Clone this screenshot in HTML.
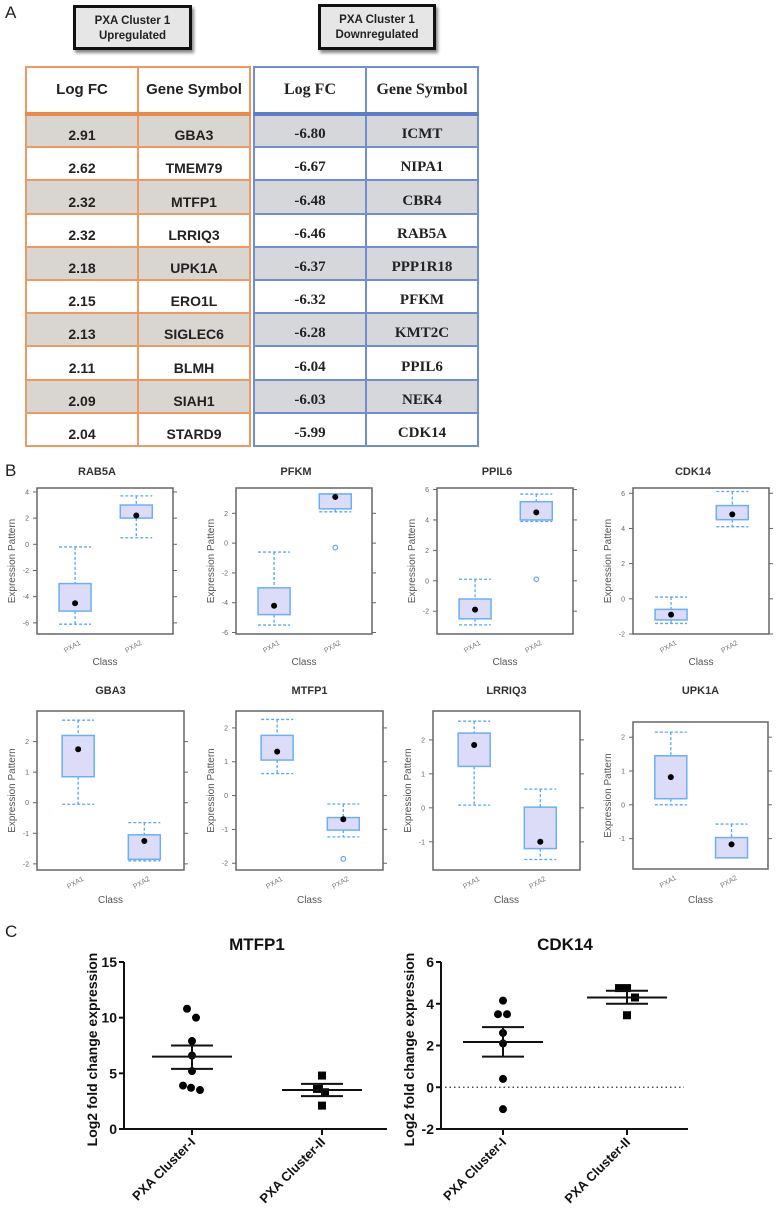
<!DOCTYPE html>
<html><head><meta charset="utf-8">
<style>
body{margin:0;background:#fff;}
#root{position:relative;width:778px;height:1209px;overflow:hidden;font-family:"Liberation Sans",sans-serif;}
.lbl{position:absolute;font-size:17px;color:#222;}
.hbox{position:absolute;background:#e6e6e6;border:3px solid #111;box-shadow:2px 3px 3px #888;text-align:center;font-weight:bold;font-size:11.5px;line-height:15px;color:#222;box-sizing:border-box;padding-top:6px;}
table{position:absolute;border-collapse:collapse;table-layout:fixed;}
td{box-sizing:border-box;text-align:center;font-weight:bold;font-size:14px;color:#222;vertical-align:bottom;padding:0 0 3px 0;height:33.2px;}
tr.head td{height:47px;vertical-align:top;padding-top:13px;font-size:15px;}
#tl td{border:2px solid #ec9a62;}
#tl tr.head td{border-bottom:4px solid #ec8a4a;}
#tl tr.g td{background:#d9d5d1;}
#tr td{border:2px solid #6f8fd0;font-family:"Liberation Serif",serif;font-size:15px;}
#tr tr.head td{border-bottom:4px solid #5a7fc8;font-size:16px;}
#tr tr.g td{background:#d6d7da;}
svg{position:absolute;left:0;top:0;}
</style></head>
<body>
<div id="root">
<div class="lbl" style="left:5px;top:3px">A</div>
<div class="hbox" style="left:73px;top:5px;width:119px;height:45px">PXA Cluster 1<br>Upregulated</div>
<div class="hbox" style="left:318px;top:4px;width:118px;height:46px">PXA Cluster 1<br>Downregulated</div>

<table id="tl" style="left:25px;top:66px;width:224px">
<colgroup><col style="width:112px"><col style="width:112px"></colgroup>
<tr class="head"><td>Log FC</td><td>Gene Symbol</td></tr>
<tr class="g"><td>2.91</td><td>GBA3</td></tr>
<tr><td>2.62</td><td>TMEM79</td></tr>
<tr class="g"><td>2.32</td><td>MTFP1</td></tr>
<tr><td>2.32</td><td>LRRIQ3</td></tr>
<tr class="g"><td>2.18</td><td>UPK1A</td></tr>
<tr><td>2.15</td><td>ERO1L</td></tr>
<tr class="g"><td>2.13</td><td>SIGLEC6</td></tr>
<tr><td>2.11</td><td>BLMH</td></tr>
<tr class="g"><td>2.09</td><td>SIAH1</td></tr>
<tr><td>2.04</td><td>STARD9</td></tr>
</table>
<table id="tr" style="left:253px;top:66px;width:224px">
<colgroup><col style="width:112px"><col style="width:112px"></colgroup>
<tr class="head"><td>Log FC</td><td>Gene Symbol</td></tr>
<tr class="g"><td>-6.80</td><td>ICMT</td></tr>
<tr><td>-6.67</td><td>NIPA1</td></tr>
<tr class="g"><td>-6.48</td><td>CBR4</td></tr>
<tr><td>-6.46</td><td>RAB5A</td></tr>
<tr class="g"><td>-6.37</td><td>PPP1R18</td></tr>
<tr><td>-6.32</td><td>PFKM</td></tr>
<tr class="g"><td>-6.28</td><td>KMT2C</td></tr>
<tr><td>-6.04</td><td>PPIL6</td></tr>
<tr class="g"><td>-6.03</td><td>NEK4</td></tr>
<tr><td>-5.99</td><td>CDK14</td></tr>
</table>

<div class="lbl" style="left:5px;top:461px">B</div>
<div class="lbl" style="left:5px;top:922px">C</div>

<svg id="chart" width="778" height="1209"></svg>
</div>
<script>
// ---- Panel B box plot data ----
const boxTitles = ["RAB5A","PFKM","PPIL6","CDK14","GBA3","MTFP1","LRRIQ3","UPK1A"];
const whiskerHi = [[-0.2,3.7],[-0.6,3.3],[0.1,5.7],[0.1,6.1],[2.7,-0.65],[2.25,-0.25],[2.55,0.55],[2.15,-0.57]];
const boxQ3 = [[-3,3],[-3,3.3],[-1.2,5.2],[-0.6,5.3],[2.2,-1.05],[1.78,-0.65],[2.2,0.02],[1.45,-0.97]];
const boxQ1 = [[-5.1,2],[-4.8,2.3],[-2.5,4],[-1.2,4.5],[0.85,-1.85],[1.05,-1.02],[1.22,-1.2],[0.18,-1.57]];
const whiskerLo = [[-6.1,0.5],[-5.5,2.1],[-2.9,3.9],[-1.4,4.1],[-0.05,-1.9],[0.65,-1.22],[0.08,-1.52],[0,-1.57]];
const boxMeans = [[-4.5,2.2],[-4.2,3.1],[-1.9,4.5],[-0.9,4.8],[1.75,-1.25],[1.3,-0.7],[1.85,-1.0],[0.82,-1.17]];
const boxOutliers = [[null,null],[null,-0.3],[null,0.1],[null,null],[null,null],[null,-1.87],[null,null],[null,null]];
const yDomains = [[-6.85,4.3],[-6.1,3.7],[-3.5,6.1],[-2,6.3],[-2.2,3.0],[-2.2,2.5],[-1.83,2.85],[-1.9,2.45]];
const yTicks = [[-6,-4,-2,0,2,4],[-6,-4,-2,0,2],[-2,0,2,4,6],[-2,0,2,4,6],[-2,-1,0,1,2],[-2,-1,0,1,2],[-1,0,1,2],[-1,0,1,2]];
const classLabels = ["PXA1","PXA2"];

// ---- Panel C scatter data ----
const scTitles = ["MTFP1","CDK14"];
const scCats = ["PXA Cluster-I","PXA Cluster-II"];
const mtfpI = [10.8,10.0,7.9,6.6,5.2,3.9,3.7,3.5];
const mtfpIJit = [-5,4,0,0,0,-9,-1,8];
const mtfpII = [4.8,3.6,3.3,2.1];
const mtfpIIJit = [0,-5,3,0];
const mtfpMean = [6.5,3.5];
const mtfpSemHi = [7.5,4.05];
const mtfpSemLo = [5.4,2.95];
const cdkI = [4.15,3.5,3.5,2.6,2.1,0.4,-1.05];
const cdkIJit = [0,-5,4,0,0,0,0];
const cdkII = [4.75,4.75,4.3,3.45];
const cdkIIJit = [-8,0,8,0];
const cdkMean = [2.17,4.3];
const cdkSemHi = [2.88,4.62];
const cdkSemLo = [1.47,4.0];
const mtfpTicks = [0,5,10,15];
const cdkTicks = [-2,0,2,4,6];

const NS="http://www.w3.org/2000/svg";
const svg=document.getElementById('chart');
function mk(tag,attrs,parent){const e=document.createElementNS(NS,tag);for(const k in attrs)e.setAttribute(k,attrs[k]);(parent||svg).appendChild(e);return e;}
function txt(s,attrs,parent){const e=mk('text',attrs,parent);e.textContent=s;return e;}

const frames=[[37,488,136,146],[236,488,136,146],[437,488,136,146],[633,488,136,146],
              [37,711,147,159],[236,711,147,159],[433,711,147,159],[633,722,135,147]];
boxTitles.forEach((name,i)=>{
  const [L,T,W,H]=frames[i];const B=T+H,R=L+W;
  const [d0,d1]=yDomains[i];
  const y=v=>B-(v-d0)/(d1-d0)*H;
  const xs=[L+W*0.28,L+W*0.73];
  const g=mk('g',{});
  
  
  const titleY=i<4?475:694;
  const t=txt(name,{x:L+W/2-(i<4?8:0),y:titleY,'text-anchor':'middle','font-size':11,'font-weight':'bold',fill:'#333'},g);
  
  
  mk('rect',{x:L,y:T,width:W,height:H,fill:'none',stroke:'#666','stroke-width':1.5},g);
  yTicks[i].forEach(v=>{
    const yy=y(v);
    mk('line',{x1:L-4,x2:L,y1:yy,y2:yy,stroke:'#666'},g);
    mk('line',{x1:R,x2:R+4,y1:yy,y2:yy,stroke:'#666'},g);
    txt(String(v),{x:L-8,y:yy+2.5,'text-anchor':'end','font-size':7,fill:'#666'},g);
  });
  const yl=txt('Expression Pattern',{x:0,y:0,'text-anchor':'middle','font-size':10,fill:'#555',transform:`translate(${L-22},${T+H/2}) rotate(-90)`},g);
  
  
  classLabels.forEach((c,j)=>{
    txt(c,{x:0,y:0,'text-anchor':'end','font-size':7,fill:'#777',transform:`translate(${xs[j]+6},${B+10}) rotate(-30)`},g);
  });
  const cl=txt('Class',{x:L+W/2,y:(i<4?665:903),'text-anchor':'middle','font-size':10,fill:'#555'},g);
  
  
  for(let j=0;j<2;j++){
    const x=xs[j],hw=16;
    const ds={stroke:'#5aa8f0','stroke-width':1.3,'stroke-dasharray':'3,2'};
    mk('line',Object.assign({x1:x,x2:x,y1:y(whiskerHi[i][j]),y2:y(boxQ3[i][j])},ds),g);
    mk('line',Object.assign({x1:x,x2:x,y1:y(boxQ1[i][j]),y2:y(whiskerLo[i][j])},ds),g);
    mk('line',Object.assign({x1:x-hw,x2:x+hw,y1:y(whiskerHi[i][j]),y2:y(whiskerHi[i][j])},ds),g);
    mk('line',Object.assign({x1:x-hw,x2:x+hw,y1:y(whiskerLo[i][j]),y2:y(whiskerLo[i][j])},ds),g);
    const bx=mk('rect',{x:x-hw,y:y(boxQ3[i][j]),width:2*hw,height:y(boxQ1[i][j])-y(boxQ3[i][j]),fill:'#dcdcf8',stroke:'#6ab0f4','stroke-width':1.5},g);
    
    
    mk('circle',{cx:x,cy:y(boxMeans[i][j]),r:3,fill:'#000'},g);
    if(boxOutliers[i][j]!==null) mk('circle',{cx:x,cy:y(boxOutliers[i][j]),r:2.3,fill:'none',stroke:'#5aa8f0','stroke-width':1.2},g);
  }
});

// Panel C
function scatter(cfg){
  const {name,L,R,T,Bt,d0,d1,ticks,cx,grpI,jitI,grpII,jitII,mean,semHi,semLo,zero,titleX}=cfg;
  const y=v=>Bt-(v-d0)/(d1-d0)*(Bt-T);
  const g=mk('g',{});
  
  
  const t=txt(name,{x:titleX,y:950,'text-anchor':'middle','font-size':17,'font-weight':'bold',fill:'#111'},g);
  
  
  mk('line',{x1:L,x2:L,y1:T,y2:Bt,stroke:'#111','stroke-width':2},g);
  mk('line',{x1:L,x2:R,y1:Bt,y2:Bt,stroke:'#111','stroke-width':2},g);
  ticks.forEach(v=>{
    mk('line',{x1:L-5,x2:L,y1:y(v),y2:y(v),stroke:'#111','stroke-width':2},g);
    txt(String(v),{x:L-7,y:y(v)+5,'text-anchor':'end','font-size':14,'font-weight':'bold',fill:'#111'},g);
  });
  if(zero) mk('line',{x1:L+4,x2:R-4,y1:y(0),y2:y(0),stroke:'#333','stroke-width':1.3,'stroke-dasharray':'1.5,3'},g);
  const yl=txt('Log2 fold change expression',{x:0,y:0,'text-anchor':'middle','font-size':14,'font-weight':'bold',fill:'#111',transform:`translate(${L-27},${(T+Bt)/2+4}) rotate(-90)`},g);
  
  
  scCats.forEach((c,j)=>{
    mk('line',{x1:cx[j],x2:cx[j],y1:Bt,y2:Bt+6,stroke:'#111','stroke-width':2},g);
    const cl=txt(c,{x:0,y:0,'text-anchor':'end','font-size':13,'font-weight':'bold',fill:'#111',transform:`translate(${cx[j]+4},${Bt+14}) rotate(-45)`},g);
    
    
  });
  grpI.forEach((v,k)=>{const p=mk('circle',{cx:cx[0]+jitI[k],cy:y(v),r:4,fill:'#000'},g);
    
    });
  grpII.forEach((v,k)=>{const p=mk('rect',{x:cx[1]+jitII[k]-4,y:y(v)-4,width:8,height:8,fill:'#000'},g);
    
    });
  for(let j=0;j<2;j++){
    mk('line',{x1:cx[j]-40,x2:cx[j]+40,y1:y(mean[j]),y2:y(mean[j]),stroke:'#111','stroke-width':2},g);
    mk('line',{x1:cx[j]-21,x2:cx[j]+21,y1:y(semHi[j]),y2:y(semHi[j]),stroke:'#111','stroke-width':2},g);
    mk('line',{x1:cx[j]-21,x2:cx[j]+21,y1:y(semLo[j]),y2:y(semLo[j]),stroke:'#111','stroke-width':2},g);
    mk('line',{x1:cx[j],x2:cx[j],y1:y(semHi[j]),y2:y(semLo[j]),stroke:'#111','stroke-width':2},g);
  }
}
scatter({name:scTitles[0],L:124,R:387,T:962,Bt:1129,d0:mtfpTicks[0],d1:mtfpTicks[mtfpTicks.length-1],ticks:mtfpTicks,cx:[192,322],grpI:mtfpI,jitI:mtfpIJit,grpII:mtfpII,jitII:mtfpIIJit,mean:mtfpMean,semHi:mtfpSemHi,semLo:mtfpSemLo,zero:false,titleX:257});
scatter({name:scTitles[1],L:441,R:688,T:962,Bt:1129,d0:cdkTicks[0],d1:cdkTicks[cdkTicks.length-1],ticks:cdkTicks,cx:[503,627],grpI:cdkI,jitI:cdkIJit,grpII:cdkII,jitII:cdkIIJit,mean:cdkMean,semHi:cdkSemHi,semLo:cdkSemLo,zero:true,titleX:565});
</script>
</body></html>
